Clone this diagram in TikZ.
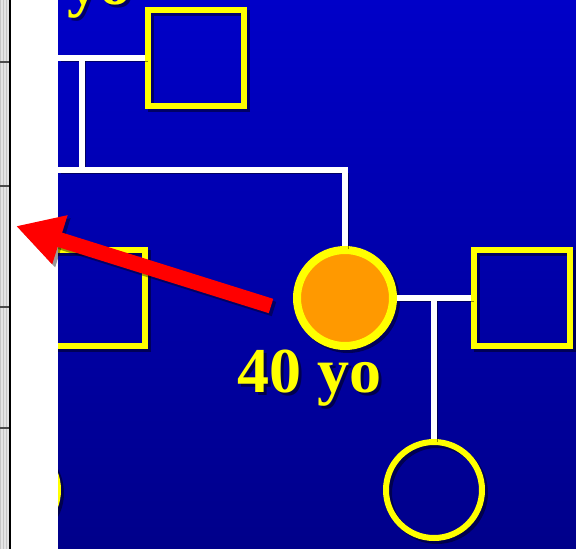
\documentclass[tikz,border=0pt]{standalone}
\usepackage{fontspec}
\setmainfont{Liberation Serif}
\usetikzlibrary{arrows.meta}
\definecolor{bgtop}{RGB}{0,0,200}
\definecolor{bgbot}{RGB}{0,0,138}
\definecolor{ped}{RGB}{255,255,0}
\definecolor{orangefill}{RGB}{255,153,0}
\definecolor{arrowred}{RGB}{255,0,0}
\begin{document}
\begin{tikzpicture}[x=1pt,y=-1pt,
  shadowed/.style={preaction={draw=black,draw opacity=0.45,transform canvas={shift={(3pt,-3pt)}}}},
  link/.style={draw=white,line width=6pt,shadowed},
  male/.style={rectangle,draw=ped,line width=6pt,minimum size=96pt,inner sep=0pt,shadowed},
  female/.style={circle,draw=ped,line width=6pt,minimum size=96pt,inner sep=0pt,shadowed},
  proband/.style={female,line width=8pt,fill=orangefill},
  agelabel/.style={text=ped,font=\fontsize{64}{64}\selectfont\bfseries,inner sep=0pt,anchor=base west},
  agelabelshadow/.style={agelabel,text=black,text opacity=0.5}]
\useasboundingbox (0,0) rectangle (576,549);
% left margin strip
\fill[white] (0,0) rectangle (58,549);
\fill[gray!20] (0,0) rectangle (9,549);
\draw[gray!45,line width=0.4pt,step=3] (0,0) grid (9,549);
\foreach \yy in {62,186,307,428} \draw[black!70,line width=1.5pt] (0,\yy) -- (9,\yy);
\draw[black,line width=2pt] (10,0) -- (10,549);
% blue background
\shade[top color=bgtop,bottom color=bgbot] (58,0) rectangle (576,549);
\begin{scope}
\clip (58,0) rectangle (576,549);
% texts
\node[agelabelshadow] at (70,7) {yo};
\node[agelabel] (topage) at (67,4) {yo};
\node[agelabelshadow] at (240,395) {40 yo};
\node[agelabel] (age) at (237,392) {40 yo};
% individuals
\node[male] (gf) at (196,58) {};
\node[male] (lm) at (97,298) {};
\node[female] (lf) at (10,490) {};
\node[proband] (pro) at (345,298) {};
\node[male] (hus) at (522,298) {};
\node[female] (dau) at (434,490) {};
% connectors
\coordinate (a1) at (58,58);
\coordinate (a2) at (82,58);
\coordinate (a3) at (82,170);
\coordinate (a4) at (58,170);
\coordinate (m1) at (434,298);
\draw[link] (a1) -- (gf.west);
\draw[link] (a2) -- (a3);
\draw[link] (pro.north) |- (a4);
\draw[link] (pro.east) -- (hus.west);
\draw[link] (m1) -- (dau.north);
\end{scope}
% red arrow
\coordinate (tail) at (271,306);
\coordinate (tip) at (16,226);
\draw[black,opacity=0.4,line width=15pt,-{Triangle[length=46pt,width=48pt]},transform canvas={shift={(3pt,-3pt)}}] (tail) -- (tip);
\draw[arrowred,line width=15pt,-{Triangle[length=46pt,width=48pt]}] (tail) -- (tip);
\end{tikzpicture}
\end{document}
